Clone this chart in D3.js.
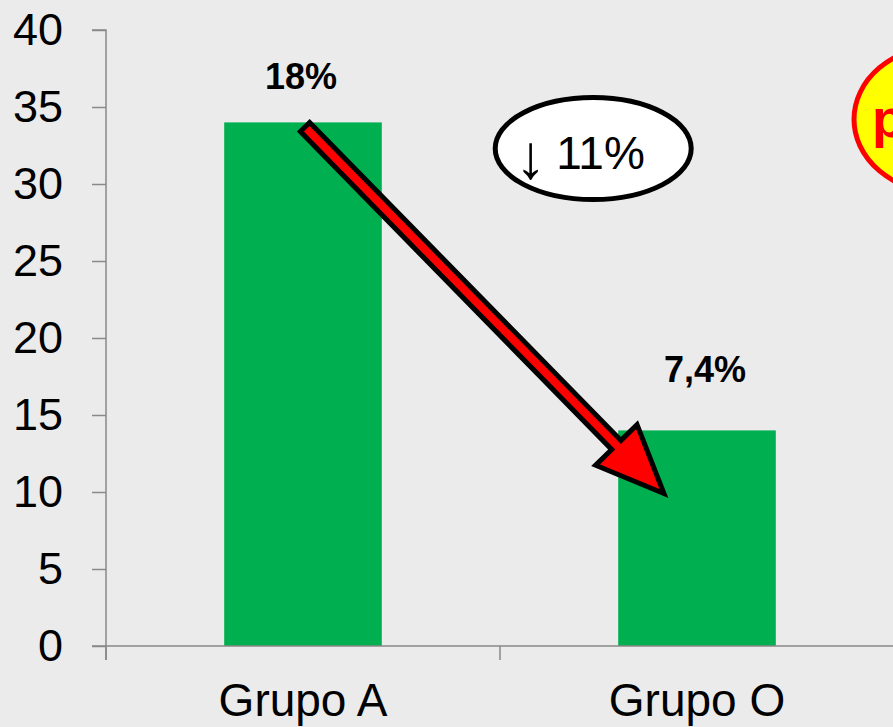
<!DOCTYPE html>
<html>
<head>
<meta charset="utf-8">
<script src="https://cdn.jsdelivr.net/npm/d3@7"></script>
<style>
  html, body { margin: 0; padding: 0; background: #ebebeb; overflow: hidden; }
  svg { display: block; font-family: 'Liberation Sans', Arial, sans-serif; }
</style>
</head>
<body>
<div id="chart"></div>
<script>
// chart data
const categories = ['Grupo A', 'Grupo O'];
const values = [34, 14];
const barLabels = ['18%', '7,4%'];
const yTicks = [0, 5, 10, 15, 20, 25, 30, 35, 40];
const changeArrow = '↓';
const changeValue = '11%';
const badgeLabel = 'p<0,05';

const W = 893, H = 727;
const GREEN = '#00b050';
const AXIS = '#898989';

const svg = d3.select('#chart').append('svg')
  .attr('width', W)
  .attr('height', H);

svg.append('rect').attr('width', W).attr('height', H).attr('fill', '#ebebeb');

const x = d3.scaleBand()
  .domain(categories)
  .range([106, 894])
  .paddingInner(0.6)
  .paddingOuter(0.3);

const y = d3.scaleLinear()
  .domain([0, 40])
  .range([646, 30]);

// bars
svg.selectAll('rect.bar')
  .data(categories)
  .join('rect')
  .attr('class', 'bar')
  .attr('x', d => x(d))
  .attr('y', (d, i) => y(values[i]))
  .attr('width', x.bandwidth())
  .attr('height', (d, i) => y(0) - y(values[i]))
  .attr('fill', GREEN);

// y axis
const yAxis = svg.append('g')
  .attr('transform', 'translate(106,0)')
  .call(d3.axisLeft(y).tickValues(yTicks).tickSize(14).tickPadding(29));
yAxis.select('.domain').attr('stroke', AXIS).attr('stroke-width', 1.5)
  .attr('d', `M-14,${y(40)}H0V${y(0) + 14}`);
yAxis.selectAll('.tick line').attr('stroke', AXIS).attr('stroke-width', 1.5);
yAxis.selectAll('.tick text')
  .attr('fill', '#000')
  .attr('font-size', 45)
  .attr('font-family', "'Liberation Sans', Arial, sans-serif");

// x axis: line plus ticks on category boundaries
const xAxis = svg.append('g')
  .attr('transform', `translate(0,${y(0)})`)
  .call(d3.axisBottom(x).tickSize(0).tickPadding(37));
xAxis.select('.domain').attr('stroke', AXIS).attr('stroke-width', 1.5)
  .attr('d', `M92,0H${W + 2}`);
xAxis.selectAll('.tick text')
  .attr('fill', '#000')
  .attr('font-size', 46)
  .attr('font-family', "'Liberation Sans', Arial, sans-serif");

const bounds = d3.range(categories.length + 1).map(i => x.range()[0] + i * x.step());
xAxis.selectAll('line.bound')
  .data(bounds)
  .join('line')
  .attr('class', 'bound')
  .attr('x1', d => d).attr('x2', d => d)
  .attr('y1', 0).attr('y2', 14)
  .attr('stroke', AXIS)
  .attr('stroke-width', 1.5);

// value labels above bars
const labelLift = [33, 48];
svg.selectAll('text.val')
  .data(barLabels)
  .join('text')
  .attr('class', 'val')
  .attr('x', (d, i) => x(categories[i]) + x.bandwidth() / 2 + (i ? 8 : -2))
  .attr('y', (d, i) => y(values[i]) - labelLift[i])
  .attr('text-anchor', 'middle')
  .attr('font-size', 36)
  .attr('font-weight', 'bold')
  .attr('fill', '#000')
  .text(d => d);

// change bubble
const bubble = svg.append('g')
  .attr('transform', `translate(${x(categories[1]) - 25},${y(32.3)})`);
bubble.append('ellipse')
  .attr('rx', 98).attr('ry', 51)
  .attr('fill', '#fff')
  .attr('stroke', '#000')
  .attr('stroke-width', 5);
const changeText = bubble.append('text')
  .attr('y', 20)
  .attr('fill', '#000');
changeText.append('tspan')
  .attr('x', -78)
  .attr('dy', 9)
  .attr('font-size', 62)
  .text(changeArrow);
changeText.append('tspan')
  .attr('x', -37)
  .attr('dy', -9)
  .attr('font-size', 46)
  .text(changeValue);

// red arrow from bar A to bar O
const from = [x(categories[0]) + x.bandwidth() / 2 + 2, y(33.7)];
const to = [x(categories[1]) + x.bandwidth() * 0.29, y(9.9)];
const dx = to[0] - from[0], dy = to[1] - from[1];
const len = Math.hypot(dx, dy);
const u = [dx / len, dy / len], n = [-u[1], u[0]];
const shaftW = 6.5, headW = 29, headL = 68;
const pt = (a, b) => [from[0] + u[0] * a + n[0] * b, from[1] + u[1] * a + n[1] * b];
const arrowPts = [
  pt(0, -shaftW), pt(len - headL, -shaftW), pt(len - headL, -headW),
  pt(len, 0),
  pt(len - headL, headW), pt(len - headL, shaftW), pt(0, shaftW)
];
svg.append('path')
  .attr('d', d3.line()(arrowPts) + 'Z')
  .attr('fill', '#ff0000')
  .attr('stroke', '#000')
  .attr('stroke-width', 5)
  .attr('stroke-linejoin', 'miter');

// significance badge, cut by the right edge
const badge = svg.append('g').attr('transform', `translate(941,${y(34.2)})`);
badge.append('ellipse')
  .attr('rx', 87).attr('ry', 73)
  .attr('fill', '#ffff00')
  .attr('stroke', '#ff0000')
  .attr('stroke-width', 5);
badge.append('text')
  .attr('x', -69)
  .attr('y', 18)
  .attr('font-size', 54)
  .attr('font-weight', 'bold')
  .attr('fill', '#ff0000')
  .text(badgeLabel);
</script>
</body>
</html>
